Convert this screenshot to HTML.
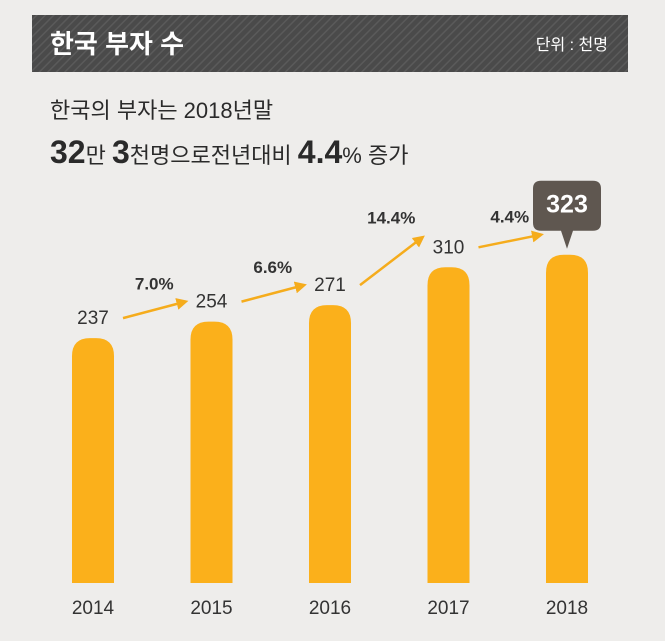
<!DOCTYPE html>
<html><head><meta charset="utf-8">
<style>
body{margin:0;background:#eeedeb;}
svg{display:block;font-family:"Liberation Sans","Noto Sans CJK KR",sans-serif;}
</style></head>
<body>
<svg width="665" height="641" viewBox="0 0 665 641">
<defs>
<pattern id="stripe" width="6" height="6" patternUnits="userSpaceOnUse" patternTransform="rotate(45)">
<rect width="6" height="6" fill="#4a4a4a"/><rect width="1.5" height="6" fill="#5a5a5a"/>
</pattern>
</defs>
<rect width="665" height="641" fill="#eeedeb"/>
<rect x="32" y="15" width="596" height="57" fill="url(#stripe)"/>
<text x="50" y="53" font-size="26" font-weight="bold" fill="#fff">한국 부자 수</text>
<text x="608" y="50" font-size="16" fill="#fff" text-anchor="end">단위 : 천명</text>
<text x="50" y="118" font-size="22" fill="#2a2a2a">한국의 부자는 2018년말</text>
<text x="50" y="163" font-size="22" fill="#2a2a2a"><tspan font-size="32" font-weight="bold">32</tspan>만 <tspan font-size="32" font-weight="bold">3</tspan>천명으로전년대비 <tspan font-size="32" font-weight="bold">4.4</tspan>% 증가</text>
<g id="chart"></g>
</svg>
<script>
const years=["2014","2015","2016","2017","2018"];
const values=[237,254,271,310,323];
const growth=["7.0%","6.6%","14.4%","4.4%"];
const NS="http://www.w3.org/2000/svg";
const g=document.getElementById('chart');
const base=583,bw=42;
const xc=i=>93+i*118.5;
const yv=v=>base-(v*0.97+15);
function mk(t,a,txt){const e=document.createElementNS(NS,t);for(const k in a)e.setAttribute(k,a[k]);if(txt!==undefined)e.textContent=txt;g.appendChild(e);return e;}
mk('marker',{});
const defs=document.querySelector('defs');
const m=document.createElementNS(NS,'marker');
m.setAttribute('id','ah');m.setAttribute('markerWidth','8');m.setAttribute('markerHeight','8');m.setAttribute('refX','6');m.setAttribute('refY','4');m.setAttribute('orient','auto');m.setAttribute('markerUnits','userSpaceOnUse');
m.innerHTML='<path d="M0,0 L8,4 L0,8 Z" fill="#f5ac1c"/>';
m.setAttribute('viewBox','0 0 8 8');m.setAttribute('markerWidth','12');m.setAttribute('markerHeight','12');
defs.appendChild(m);
values.forEach((v,i)=>{
  const x=xc(i)-bw/2,y=yv(v),r=18;
  const b=mk('path',{d:`M${x},${base} L${x},${y+r} Q${x},${y} ${x+r},${y} L${x+bw-r},${y} Q${x+bw},${y} ${x+bw},${y+r} L${x+bw},${base} Z`,fill:'#fbb01b'});
  
  
  const t=mk('text',{x:xc(i),y:base+31,'font-size':19,'text-anchor':'middle',fill:'#333'},years[i]);
  
  
  if(i<values.length-1){
    const l=mk('text',{x:xc(i),y:y-14,'font-size':19,'text-anchor':'middle',fill:'#333'},String(v));
    
    
  } else {
    const cx=xc(i),by=y-26;
    const bub=mk('path',{d:`M${cx-26},${by-48} h52 q8,0 8,8 v34 q0,8 -8,8 h-20 l-6,18 l-6,-18 h-20 q-8,0 -8,-8 v-34 q0,-8 8,-8 Z`,fill:'#5f5750'});
    
    
    const l=mk('text',{x:cx,y:by-16,'font-size':25,'font-weight':'bold','text-anchor':'middle',fill:'#fff'},String(v));
    
    
  }
});
growth.forEach((gr,i)=>{
  const y1=yv(values[i])-20,y2=yv(values[i+1])-20;
  const x1=xc(i)+30,x2=xc(i+1)-26;
  const a=mk('line',{x1:x1,y1:y1,x2:x2,y2:y2+(i==2?-10:0),stroke:'#f5ac1c','stroke-width':2.5,'marker-end':'url(#ah)'});
  
  
  const t=mk('text',{x:(x1+x2)/2,y:Math.min(y1,y2)-(i==2?24:12),'font-size':17,'font-weight':'bold','text-anchor':'middle',fill:'#333'},gr);
  
  
});
</script>
</body></html>
